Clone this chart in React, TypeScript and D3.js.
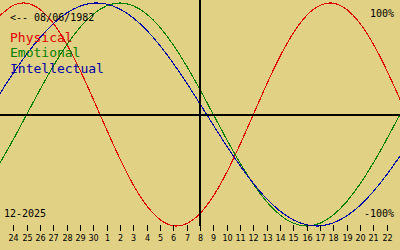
import React from "react";
import * as d3 from "d3";

// day index -1 .. 29  (23 Nov .. 23 Dec), "today" = index 14 (8 Dec)
const dayIndex = d3.range(-1, 30);
const dayLabels = [23, 24, 25, 26, 27, 28, 29, 30, 1, 2, 3, 4, 5, 6, 7, 8, 9, 10, 11, 12, 13, 14, 15, 16, 17, 18, 19, 20, 21, 22, 23];

const physical = [0.888, 0.979, 0.998, 0.942, 0.817, 0.631, 0.398, 0.136, -0.136, -0.398, -0.631, -0.817, -0.942, -0.998, -0.979, -0.888, -0.731, -0.52, -0.27, 0, 0.27, 0.52, 0.731, 0.888, 0.979, 0.998, 0.942, 0.817, 0.631, 0.398, 0.136];
const emotional = [-0.434, -0.223, 0, 0.223, 0.434, 0.623, 0.782, 0.901, 0.975, 1.0, 0.975, 0.901, 0.782, 0.623, 0.434, 0.223, 0, -0.223, -0.434, -0.623, -0.782, -0.901, -0.975, -1.0, -0.975, -0.901, -0.782, -0.623, -0.434, -0.223, 0];
const intellectual = [0.189, 0.372, 0.541, 0.69, 0.815, 0.91, 0.972, 0.999, 0.99, 0.945, 0.866, 0.756, 0.618, 0.458, 0.282, 0.095, -0.095, -0.282, -0.458, -0.618, -0.756, -0.866, -0.945, -0.99, -0.999, -0.972, -0.91, -0.815, -0.69, -0.541, -0.372];

const seriesNames = ["Physical", "Emotional", "Intellectual"];
const seriesColors = ["#e00000", "#008000", "#0000a8"];
const todayIndex = 14;
const birthLabel = "<-- 08/06/1982";
const monthLabel = "12-2025";
const topLabel = "100%";
const bottomLabel = "-100%";

const W = 400;
const H = 250;

export default function App() {
  const x = d3.scaleLinear().domain([-1, 29]).range([0, W]);
  const y = d3.scaleLinear().domain([-1, 1]).range([226, 3]);
  const line = d3
    .line<number>()
    .x((_, i) => x(dayIndex[i]))
    .y((v) => y(v))
    .curve(d3.curveNatural);
  const series = [physical, emotional, intellectual];
  const y0 = Math.round(y(0));
  const tickIdx = dayIndex.filter((d) => d >= 0 && d <= 28);

  return (
    <svg
      width={W}
      height={H}
      style={{ position: "fixed", left: 0, top: 0, display: "block" }}
    >
      <rect x={0} y={0} width={W} height={H} fill="#e0d184" />
      {series.map((s, k) => (
        <path
          key={k}
          d={line(s) || ""}
          fill="none"
          stroke={seriesColors[k]}
          strokeWidth={1.1}
          shapeRendering="crispEdges"
        />
      ))}
      <line x1={0} x2={W} y1={y0} y2={y0} stroke="#000" strokeWidth={2} shapeRendering="crispEdges" />
      <line
        x1={Math.round(x(todayIndex))}
        x2={Math.round(x(todayIndex))}
        y1={0}
        y2={226}
        stroke="#000"
        strokeWidth={2}
        shapeRendering="crispEdges"
      />
      {tickIdx.map((d) => (
        <g key={d}>
          <line
            x1={Math.round(x(d)) + 0.5}
            x2={Math.round(x(d)) + 0.5}
            y1={225}
            y2={231}
            stroke="#000"
            strokeWidth={1}
            shapeRendering="crispEdges"
          />
          <text
            x={Math.round(x(d)) + 0.5}
            y={241}
            textAnchor="middle"
            fontFamily="DejaVu Sans"
            fontSize={8}
            fill="#000"
          >
            {dayLabels[d + 1]}
          </text>
        </g>
      ))}
      <g fontFamily="DejaVu Sans Mono" fill="#000">
        <text x={10} y={21} fontSize={10}>{birthLabel}</text>
        <text x={394} y={16.5} fontSize={10} textAnchor="end">{topLabel}</text>
        <text x={394} y={216.5} fontSize={10} textAnchor="end">{bottomLabel}</text>
        <text x={4} y={216.5} fontSize={10}>{monthLabel}</text>
        {seriesNames.map((n, k) => (
          <text key={n} x={10} y={42 + k * 15.3} fontSize={13} fill={seriesColors[k]}>
            {n}
          </text>
        ))}
      </g>
    </svg>
  );
}
